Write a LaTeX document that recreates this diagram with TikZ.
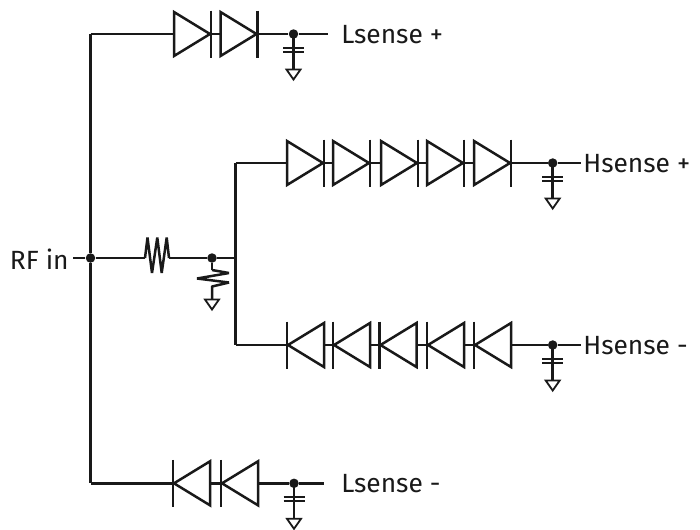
\documentclass[tikz,border=0pt]{standalone}
\usepackage{fontspec}
\setmainfont{Fira Sans}
\tikzset{
  wire/.style={line width=0.05cm},
  thinwire/.style={line width=0.036cm},
  junction/.style={circle,fill=black!90,inner sep=0pt,minimum size=0.19cm},
  sense/.style={anchor=west,inner sep=0pt,font=\fontsize{15}{18}\selectfont},
  gndmark/.pic={\draw [thinwire,line join=miter] (-7,0.5) -- (7,0.5) -- (0,10.5) -- cycle;},
  capgnd/.pic={
    \draw [wire] (0,0) -- (0,35);
    \draw [thinwire] (-10.5,14) -- (10.5,14);
    \draw [thinwire] (-10.5,18) -- (10.5,18);
    \pic at (0,35) {gndmark};
  },
  diodefwd/.pic={
    \coordinate (-in) at (0,0);
    \coordinate (-out) at (37,0);
    \draw [wire] (0,-22) -- (36,0) -- (0,22) -- cycle;
    \draw [wire] (37,-23.5) -- (37,23.5);
  },
  dioderev/.pic={
    \coordinate (-in) at (0,0);
    \coordinate (-out) at (37,0);
    \draw [wire] (37,-22) -- (1,0) -- (37,22) -- cycle;
    \draw [wire] (0,-23.5) -- (0,23.5);
  }
}
\begin{document}
\begin{tikzpicture}[x=0.02cm,y=-0.02cm,color=black!90]
  \useasboundingbox (0,0) rectangle (700,529);

  % Marking points on the input wire and the bus
  \node [junction] (rfnode) at (90.5,258) {};
  \node [junction] (shuntnode) at (212,258) {};
  \coordinate (rfend) at (73,258);
  \coordinate (topcorner) at (90.5,34);
  \coordinate (botcorner) at (90.5,483.3);
  \coordinate (busmid) at (235.7,258);
  \coordinate (bustop) at (235.7,163);
  \coordinate (busbot) at (235.7,345);
  \coordinate (resin) at (145,258);
  \coordinate (resout) at (169,258);
  \coordinate (shunttop) at (212,270);
  \coordinate (shuntbot) at (212,299);

  % Drawing RF in
  \node [sense,anchor=east] (rflabel) at (69,259) {RF in};
  \draw [wire] (rfend) -- (rfnode) -- (resin);
  \draw [wire] (topcorner) -- (rfnode) -- (botcorner);

  % Drawing series resistor
  \draw [wire,line join=bevel] (resin) -- (147.5,237.5) -- (152,273) -- (157.3,237.5) -- (161.7,273) -- (166.7,237.5) -- (resout);
  \draw [wire] (resout) -- (shuntnode) -- (busmid);

  % Drawing shunt resistor
  \draw [wire] (shuntnode) -- (shunttop);
  \draw [wire,line join=bevel] (shunttop) -- (229,273) -- (197,278.5) -- (229,282.5) -- (212,286.5) -- (shuntbot);
  \pic at (shuntbot) {gndmark};

  % Drawing bus
  \draw [wire] (bustop) -- (busbot);

  % Drawing Lsense +
  \pic (lp1) at (174,34) {diodefwd};
  \pic (lp2) at (220.5,34) {diodefwd};
  \node [junction] (lpnode) at (293.5,34) {};
  \coordinate (lpend) at (328,34);
  \node [sense] (lplabel) at (341,35) {Lsense +};
  \draw [wire] (topcorner) -- (lp1-in);
  \draw [wire] (lp1-out) -- (lp2-in);
  \draw [wire] (lp2-out) -- (lpnode) -- (lpend);
  \pic at (lpnode) {capgnd};

  % Drawing Hsense +
  \foreach \i/\xpos in {1/287,2/333,3/381,4/427,5/474}
    \pic (hp\i) at (\xpos,163) {diodefwd};
  \foreach \i/\j in {1/2,2/3,3/4,4/5}
    \draw [wire] (hp\i-out) -- (hp\j-in);
  \node [junction] (hpnode) at (552.7,163) {};
  \coordinate (hpend) at (581,163);
  \node [sense] (hplabel) at (583,164) {Hsense +};
  \draw [wire] (bustop) -- (hp1-in);
  \draw [wire] (hp5-out) -- (hpnode) -- (hpend);
  \pic at (hpnode) {capgnd};

  % Drawing Hsense -
  \foreach \i/\xpos in {1/287,2/333,3/379.5,4/427,5/474}
    \pic (hm\i) at (\xpos,345) {dioderev};
  \foreach \i/\j in {1/2,2/3,3/4,4/5}
    \draw [wire] (hm\i-out) -- (hm\j-in);
  \node [junction] (hmnode) at (552.7,345) {};
  \coordinate (hmend) at (581,345);
  \node [sense] (hmlabel) at (583,346) {Hsense -};
  \draw [wire] (busbot) -- (hm1-in);
  \draw [wire] (hm5-out) -- (hmnode) -- (hmend);
  \pic at (hmnode) {capgnd};

  % Drawing Lsense -
  \pic (lm1) at (173,483.3) {dioderev};
  \pic (lm2) at (221,483.3) {dioderev};
  \node [junction] (lmnode) at (294,483.3) {};
  \coordinate (lmend) at (324,483.3);
  \node [sense] (lmlabel) at (341,484) {Lsense -};
  \draw [wire] (botcorner) -- (lm1-in);
  \draw [wire] (lm1-out) -- (lm2-in);
  \draw [wire] (lm2-out) -- (lmnode) -- (lmend);
  \pic at (lmnode) {capgnd};
\end{tikzpicture}
\end{document}
